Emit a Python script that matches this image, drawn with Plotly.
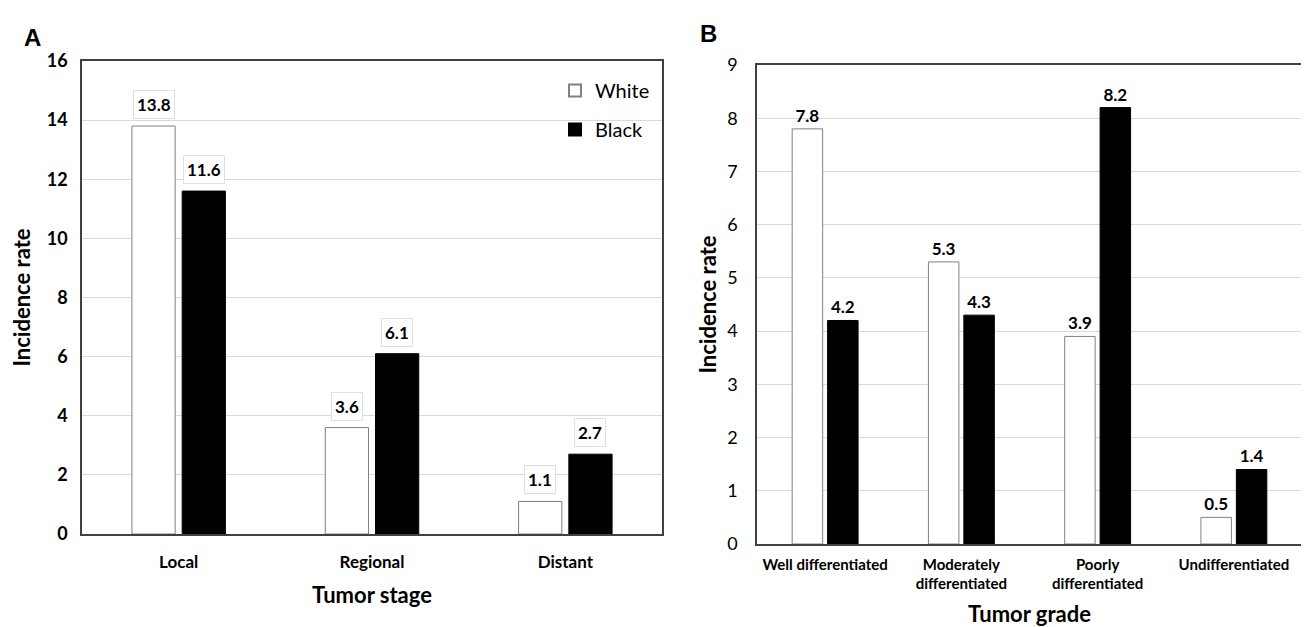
import plotly.graph_objects as go

stages = ["Local", "Regional", "Distant"]
stage_white = [13.8, 3.6, 1.1]
stage_black = [11.6, 6.1, 2.7]

grades = ["Well differentiated", "Moderately<br>differentiated", "Poorly<br>differentiated", "Undifferentiated"]
grade_white = [7.8, 5.3, 3.9, 0.5]
grade_black = [4.2, 4.3, 8.2, 1.4]

FONT = "Lato, Open Sans, Arial"
OFF = 8  # page body margin
W, H = 1309 - OFF, 627 - OFF


def px(x):
    return (x - OFF) / W


def py(y):
    return 1 - (y - OFF) / H


xa = [px(82), px(662)]
ya = [py(534), py(61)]
xb = [px(757), px(1302)]
yb = [py(544), py(65)]
BARGAP = 0.48

fig = go.Figure()
fig.add_trace(go.Bar(x=stages, y=stage_white, name="White", legendgroup="w",
                     marker=dict(color="white", line=dict(color="#808080", width=1)),
                     xaxis="x", yaxis="y"))
fig.add_trace(go.Bar(x=stages, y=stage_black, name="Black", legendgroup="b",
                     marker=dict(color="black", line=dict(color="black", width=1)),
                     xaxis="x", yaxis="y"))
fig.add_trace(go.Bar(x=grades, y=grade_white, name="White", showlegend=False,
                     marker=dict(color="white", line=dict(color="#808080", width=1)),
                     text=[f"{v:.1f}" for v in grade_white], textposition="outside",
                     texttemplate="<b>%{text}</b>",
                     textfont=dict(family=FONT, size=17, color="black"),
                     xaxis="x2", yaxis="y2", cliponaxis=False))
fig.add_trace(go.Bar(x=grades, y=grade_black, name="Black", showlegend=False,
                     marker=dict(color="black", line=dict(color="black", width=1)),
                     text=[f"{v:.1f}" for v in grade_black], textposition="outside",
                     texttemplate="<b>%{text}</b>",
                     textfont=dict(family=FONT, size=17, color="black"),
                     xaxis="x2", yaxis="y2", cliponaxis=False))

# boxed value labels on panel A
catw = (xa[1] - xa[0]) * W / len(stages)
off = (1 - BARGAP) * catw / 4
annotations = []
for vals, sgn in ((stage_white, -1), (stage_black, 1)):
    for c, v in zip(stages, vals):
        annotations.append(dict(x=c, y=v, xref="x", yref="y", text=f"<b>{v:.1f}</b>", showarrow=False,
                                yanchor="bottom", xshift=sgn * off, yshift=7,
                                font=dict(family=FONT, size=17, color="black"),
                                bordercolor="#e0e0e0", borderwidth=1, borderpad=3, bgcolor="white"))
annotations += [
    dict(x=px(22), y=py(22), xref="paper", yref="paper", text="<b>A</b>", showarrow=False,
         font=dict(family="Liberation Sans, Arial", size=24, color="black")),
    dict(x=px(708), y=py(18), xref="paper", yref="paper", text="<b>B</b>", showarrow=False,
         font=dict(family="Liberation Sans, Arial", size=24, color="black")),
]

axis_common = dict(showline=True, linecolor="#404040", linewidth=1.5, mirror=True, ticks="",
                   showgrid=False, automargin=False)
yaxis_common = dict(showline=True, linecolor="#404040", linewidth=1.5, mirror=True, ticks="",
                    gridcolor="#d9d9d9", gridwidth=1, zeroline=False, automargin=False)

fig.update_layout(
    width=W, height=H, margin=dict(l=0, r=0, t=0, b=0),
    paper_bgcolor="white", plot_bgcolor="white",
    barmode="group", bargap=BARGAP, bargroupgap=0.14,
    font=dict(family=FONT, color="black"),
    showlegend=True,
    legend=dict(x=px(655), y=py(71), xanchor="right", yanchor="top", bgcolor="rgba(0,0,0,0)",
                font=dict(family=FONT, size=20, color="black"), tracegroupgap=10, itemsizing="constant"),
    xaxis=dict(domain=xa, anchor="y", **axis_common, ticklabelstandoff=12,
               tickfont=dict(family=FONT, size=17, color="black"),
               tickprefix="<b>", ticksuffix="</b>",
               title=dict(text="<b>Tumor stage</b>", font=dict(family=FONT, size=22), standoff=16)),
    yaxis=dict(domain=ya, anchor="x", range=[0, 16], dtick=2, **yaxis_common, ticklabelstandoff=9,
               tickfont=dict(family=FONT, size=18, color="black"), tickprefix="<b>", ticksuffix="</b>",
               title=dict(text="<b>Incidence rate</b>", font=dict(family=FONT, size=22), standoff=11)),
    xaxis2=dict(domain=xb, anchor="y2", **axis_common, ticklabelstandoff=6,
                tickfont=dict(family=FONT, size=15, color="black"),
                tickprefix="<b>", ticksuffix="</b>",
                title=dict(text="<b>Tumor grade</b>", font=dict(family=FONT, size=22))),
    yaxis2=dict(domain=yb, anchor="x2", range=[0, 9], dtick=1, **yaxis_common, ticklabelstandoff=14,
                tickfont=dict(family=FONT, size=18, color="black"),
                title=dict(text="<b>Incidence rate</b>", font=dict(family=FONT, size=22), standoff=4)),
    annotations=annotations,
)

fig.write_html("out.html")
